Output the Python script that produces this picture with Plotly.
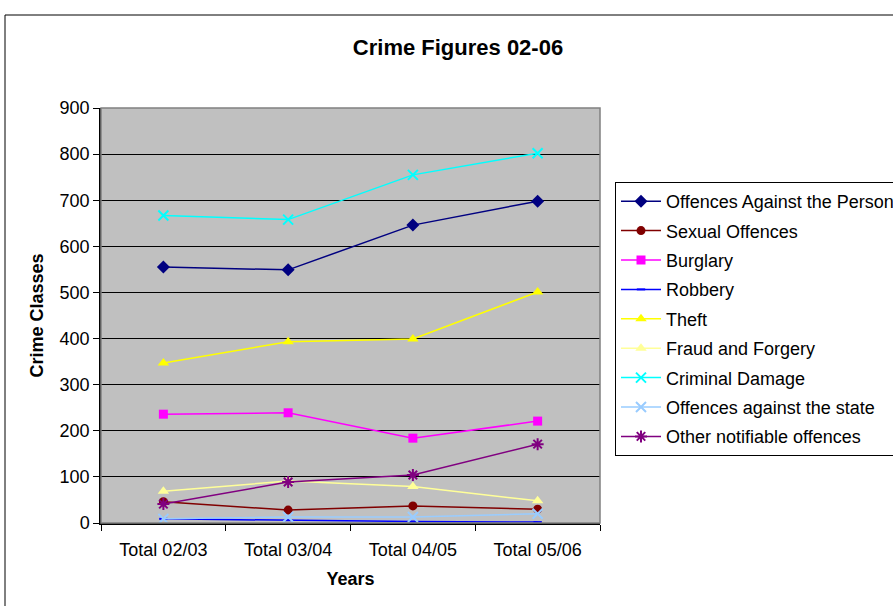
import plotly.graph_objects as go

years = ["Total 02/03", "Total 03/04", "Total 04/05", "Total 05/06"]
person = [555, 549, 646, 698]
sexual = [46, 28, 37, 30]
burglary = [236, 239, 184, 221]
robbery = [9, 6, 3, 2]
theft = [347, 393, 399, 501]
fraud = [69, 91, 79, 48]
damage = [667, 658, 755, 802]
state = [9, 13, 13, 20]
other = [41, 89, 104, 171]

series = [
    ("Offences Against the Person", person, "#000080", "diamond", 10),
    ("Sexual Offences", sexual, "#800000", "circle", 9),
    ("Burglary", burglary, "#FF00FF", "square", 9),
    ("Robbery", robbery, "#0000FF", "line-ew", 6),
    ("Theft", theft, "#FFFF00", "triangle-up", 10),
    ("Fraud and Forgery", fraud, "#FFFF99", "triangle-up", 10),
    ("Criminal Damage", damage, "#00FFFF", "x-thin", 10),
    ("Offences against the state", state, "#99CCFF", "x-thin", 10),
    ("Other notifiable offences", other, "#800080", "asterisk", 10),
]

fig = go.Figure()
for i, (name, vals, col, sym, sz) in enumerate(series):
    thin = sym in ("x-thin", "asterisk", "line-ew")
    fig.add_trace(go.Scatter(
        x=years, y=vals, name=name, mode="lines+markers",
        legendgroup=f"g{i}",
        line=dict(color=col, width=1.5),
        marker=dict(symbol=sym, size=sz, color=col,
                    line=dict(color=col, width=2 if thin else 0)),
    ))

font = "Liberation Sans, Arial, sans-serif"
W, H = 893, 606
L, R, T, B = 101, 293, 108, 83
pw, ph = W - L - R, H - T - B

fig.update_layout(
    width=W, height=H,
    margin=dict(l=L, r=R, t=T, b=B, autoexpand=False),
    paper_bgcolor="white",
    plot_bgcolor="#C0C0C0",
    font=dict(family=font, size=18, color="black"),
    title=dict(text="<b>Crime Figures 02-06</b>", x=458 / W, xanchor="center",
               y=1 - 47 / H, yanchor="middle", font=dict(size=22)),
    showlegend=True,
    legend=dict(x=(615 - L) / pw, xanchor="left", y=(523 - 182) / ph, yanchor="top",
                bordercolor="black", borderwidth=1, bgcolor="white",
                tracegroupgap=3, font=dict(size=18), itemwidth=40),
    xaxis=dict(type="category", tickson="boundaries", ticks="outside", ticklen=6,
               range=[-0.5, 3.5], ticklabelstandoff=10,
               tickcolor="black", showline=True, linecolor="black", linewidth=1.5,
               showgrid=False,
               title=dict(text="<b>Years</b>", font=dict(size=18), standoff=13)),
    yaxis=dict(range=[0, 900], dtick=100, ticks="outside", ticklen=6,
               tickcolor="black", showline=True, linecolor="black", linewidth=1.5,
               showgrid=True, gridcolor="black", gridwidth=1, zeroline=False,
               title=dict(text="<b>Crime Classes</b>", font=dict(size=18), standoff=11)),
)

# plot-area border and outer chart frame
fig.add_shape(type="rect", xref="paper", yref="paper", x0=0, x1=1, y0=0, y1=1,
              line=dict(color="#808080", width=1.5), layer="above")
fig.add_shape(type="rect", xref="paper", yref="paper",
              x0=(5 - L) / pw, x1=(905 - L) / pw,
              y0=(523 - 620) / ph, y1=(523 - 15) / ph,
              line=dict(color="black", width=1))

fig.write_html("out.html", config={"displayModeBar": False},
               post_script="document.body.style.margin='0';")
